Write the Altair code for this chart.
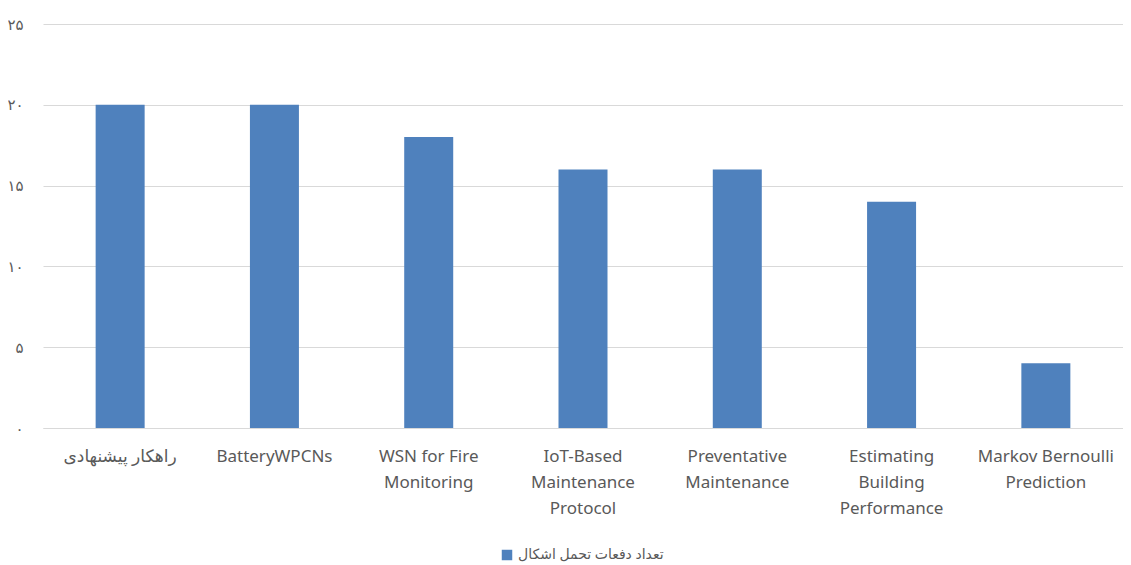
import altair as alt
import pandas as pd

categories = [
    "راهکار پیشنهادی",
    "BatteryWPCNs",
    "WSN for Fire|Monitoring",
    "IoT-Based|Maintenance|Protocol",
    "Preventative|Maintenance",
    "Estimating|Building|Performance",
    "Markov Bernoulli|Prediction",
]
values = [20, 20, 18, 16, 16, 14, 4]
series_name = "تعداد دفعات تحمل اشکال"
y_ticks = [0, 5, 10, 15, 20, 25]
y_tick_labels = ["۰", "۵", "۱۰", "۱۵", "۲۰", "۲۵"]

df = pd.DataFrame({"cat": categories, "val": values, "series": [series_name] * len(values)})

label_arr = "[" + ",".join("'" + s + "'" for s in y_tick_labels) + "]"

FONT = "Noto Sans, DejaVu Sans, sans-serif"
GREY = "#595959"

chart = alt.Chart(df).mark_bar(size=49, color="#4F81BD").encode(
    x=alt.X("cat:N", sort=categories, title=None,
            scale=alt.Scale(paddingInner=0.0, paddingOuter=0.0),
            axis=alt.Axis(labelAngle=0, labelExpr="split(datum.label, '|')",
                          labelFontSize=17, labelColor=GREY, labelFont=FONT,
                          labelLineHeight=26, labelPadding=20, labelBaseline="top",
                          domain=True, domainColor="#D9D9D9", ticks=False, grid=False)),
    y=alt.Y("val:Q", title=None,
            scale=alt.Scale(domain=[0, 25], nice=False),
            axis=alt.Axis(values=y_ticks, labelExpr=label_arr + "[round(datum.value/5)]",
                          labelFontSize=15, labelColor=GREY, labelFont=FONT,
                          labelPadding=20, domain=False, ticks=False,
                          gridColor="#D9D9D9", gridWidth=1)),
    color=alt.Color("series:N", scale=alt.Scale(range=["#4F81BD"]), title=None,
                    legend=alt.Legend(orient="none", legendX=457, legendY=524,
                                      symbolType="square", symbolSize=110,
                                      symbolStrokeWidth=0,
                                      labelFontSize=14, labelColor=GREY, labelFont=FONT)),
).properties(
    width=1080, height=404,
    autosize=alt.AutoSizeParams(type="none"),
    padding={"left": 35, "top": 16, "right": 0, "bottom": 139},
).configure_view(stroke=None)

chart.save("out.html", embed_options={"renderer": "svg", "actions": False})
